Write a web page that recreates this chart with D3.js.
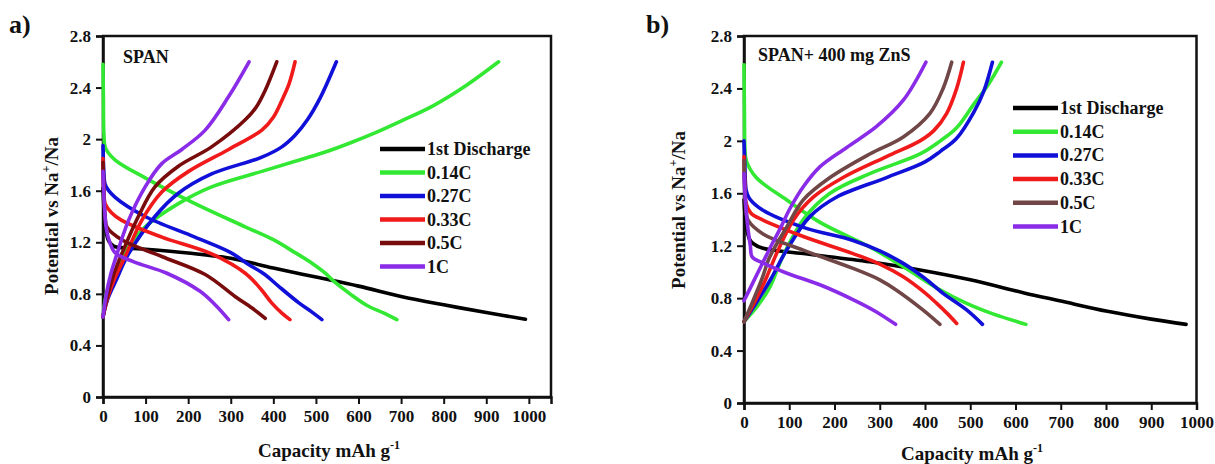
<!DOCTYPE html>
<html>
<head>
<meta charset="utf-8">
<script src="https://cdn.jsdelivr.net/npm/d3@7"></script>
<style>
  body { margin: 0; background: #fff; }
  svg text { font-family: "Liberation Serif", "Times New Roman", Times, "DejaVu Serif", serif !important; font-weight: bold; fill: #111; }
</style>
</head>
<body>
<svg id="chart" width="1215" height="464"></svg>
<script>
// ---------------- DATA ----------------
const seriesNames = ["1st Discharge", "0.14C", "0.27C", "0.33C", "0.5C", "1C"];
const yTicks = [0, 0.4, 0.8, 1.2, 1.6, 2, 2.4, 2.8];
const xTicks = [0, 100, 200, 300, 400, 500, 600, 700, 800, 900, 1000];
const panelLabels = ["a)", "b)"];
const panelTitles = ["SPAN", "SPAN+ 400 mg ZnS"];

// Panel a (SPAN): [capacity mAh/g, potential V]
const a_first = [[0,1.62],[5,1.35],[12,1.22],[25,1.17],[60,1.155],[100,1.146],[200,1.117],[300,1.076],[400,1.0],[500,0.93],[600,0.86],[700,0.78],[800,0.715],[900,0.655],[992,0.603]];
const a_014_dis = [[0,2.58],[1,2.3],[2,2.05],[6,1.93],[28,1.84],[99,1.70],[216,1.50],[334,1.32],[400,1.22],[451,1.12],[490,1.04],[522,0.96],[541,0.90],[580,0.80],[620,0.71],[660,0.65],[690,0.60]];
const a_014_chg = [[0,0.62],[5,0.75],[14,0.87],[28,0.96],[60,1.17],[99,1.32],[177,1.50],[255,1.63],[373,1.75],[463,1.84],[522,1.90],[580,1.97],[640,2.05],[700,2.14],[776,2.26],[850,2.41],[929,2.60]];
const a_027_dis = [[0,1.95],[2,1.75],[6,1.64],[28,1.55],[99,1.40],[216,1.24],[300,1.12],[341,1.03],[380,0.95],[412,0.86],[460,0.73],[490,0.66],[514,0.60]];
const a_027_chg = [[0,0.62],[10,0.75],[30,0.90],[60,1.11],[122,1.40],[177,1.58],[255,1.73],[373,1.86],[420,1.94],[451,2.03],[480,2.15],[510,2.32],[548,2.60]];
const a_033_dis = [[0,1.85],[2,1.62],[5,1.50],[20,1.43],[44,1.37],[138,1.24],[255,1.11],[334,0.96],[370,0.84],[396,0.73],[420,0.65],[439,0.60]];
const a_033_chg = [[0,0.62],[10,0.76],[25,0.90],[52,1.09],[91,1.37],[138,1.59],[201,1.75],[295,1.92],[373,2.07],[400,2.17],[420,2.30],[437,2.43],[451,2.60]];
const a_05_dis = [[0,1.82],[2,1.55],[5,1.40],[9,1.32],[44,1.22],[138,1.09],[240,0.95],[310,0.78],[350,0.69],[381,0.61]];
const a_05_chg = [[0,0.62],[10,0.78],[25,0.95],[44,1.11],[83,1.40],[122,1.63],[177,1.79],[255,1.94],[334,2.15],[360,2.25],[381,2.38],[408,2.60]];
const a_1_dis = [[0,1.75],[3,1.5],[8,1.3],[16,1.2],[28,1.12],[71,1.05],[150,0.96],[228,0.82],[265,0.71],[295,0.60]];
const a_1_chg = [[0,0.62],[8,0.80],[18,0.95],[28,1.06],[60,1.37],[99,1.63],[138,1.81],[185,1.92],[240,2.07],[295,2.33],[343,2.60]];

// Panel b (SPAN + 400 mg ZnS)
const b_first = [[0,1.55],[5,1.35],[12,1.25],[20,1.217],[42,1.18],[131,1.14],[278,1.077],[389,1.015],[500,0.94],[619,0.84],[700,0.778],[803,0.70],[900,0.64],[977,0.60]];
const b_014_dis = [[0,2.58],[1,2.2],[2,1.95],[5,1.85],[27,1.72],[94,1.55],[167,1.38],[278,1.19],[352,1.04],[430,0.87],[492,0.76],[550,0.68],[623,0.60]];
const b_014_chg = [[0,0.62],[30,0.74],[58,0.89],[86,1.12],[131,1.40],[190,1.60],[278,1.75],[389,1.90],[434,2.0],[470,2.10],[508,2.28],[540,2.43],[569,2.60]];
const b_027_dis = [[0,2.0],[2,1.8],[5,1.62],[12,1.56],[42,1.47],[131,1.34],[241,1.24],[300,1.16],[352,1.065],[400,0.95],[440,0.836],[492,0.71],[527,0.60]];
const b_027_chg = [[0,0.62],[30,0.78],[60,0.95],[94,1.166],[145,1.42],[204,1.57],[315,1.72],[400,1.84],[434,1.92],[470,2.02],[508,2.22],[530,2.38],[549,2.60]];
const b_033_dis = [[0,1.88],[2,1.65],[5,1.52],[15,1.45],[42,1.395],[131,1.27],[241,1.14],[300,1.06],[352,0.963],[400,0.84],[426,0.76],[450,0.68],[470,0.607]];
const b_033_chg = [[0,0.62],[25,0.78],[50,0.96],[72,1.14],[109,1.395],[153,1.57],[219,1.72],[315,1.88],[389,2.00],[420,2.08],[448,2.21],[470,2.40],[485,2.60]];
const b_05_dis = [[0,1.85],[2,1.6],[5,1.45],[9,1.395],[42,1.29],[131,1.166],[241,1.027],[300,0.94],[337,0.861],[396,0.709],[433,0.60]];
const b_05_chg = [[0,0.62],[20,0.78],[40,0.95],[57,1.115],[94,1.34],[131,1.55],[190,1.72],[278,1.90],[352,2.03],[411,2.21],[440,2.40],[459,2.60]];
const b_1_dis = [[0,1.75],[3,1.55],[8,1.35],[14,1.2],[18,1.115],[44,1.065],[95,0.99],[169,0.90],[243,0.785],[290,0.70],[335,0.60]];
const b_1_chg = [[0,0.78],[20,0.92],[40,1.06],[60,1.20],[80,1.33],[101,1.48],[131,1.65],[167,1.80],[227,1.95],[293,2.11],[352,2.31],[402,2.60]];

const colorsA = ["#000000", "#33e833", "#1010d8", "#f01a1a", "#780c0c", "#8a2be8"];
const colorsB = ["#000000", "#33e833", "#1010d8", "#f01a1a", "#704646", "#8a2be8"];

// ---------------- DRAW ----------------
const FONT = '"Liberation Serif", "Times New Roman", Times, "DejaVu Serif", serif';
const svg = d3.select("#chart");

function drawPanel(p) {
  const x = d3.scaleLinear().domain(p.xDomain).range([p.left, p.right]);
  const y = d3.scaleLinear().domain([0, 2.8]).range([p.bottom, p.top]);
  const g = svg.append("g").attr("font-family", FONT);

  // frame
  g.append("rect").attr("x", p.left).attr("y", p.top)
    .attr("width", p.right - p.left).attr("height", p.bottom - p.top)
    .attr("fill", "none").attr("stroke", "#111").attr("stroke-width", 2.5);

  // axes
  const yAxis = d3.axisLeft(y).tickValues(yTicks).tickFormat(d3.format("~g")).tickSizeOuter(0).tickSize(7).tickPadding(5);
  const xAxis = d3.axisBottom(x).tickValues(xTicks).tickFormat(d3.format("d")).tickSizeOuter(0).tickSize(7).tickPadding(6);
  const ya = g.append("g").attr("transform", `translate(${p.left},0)`).call(yAxis);
  const xa = g.append("g").attr("transform", `translate(0,${p.bottom})`).call(xAxis);
  [ya, xa].forEach(a => {
    a.attr("font-family", FONT);
    a.select(".domain").attr("stroke", "#111").attr("stroke-width", 2.5);
    a.selectAll(".tick line").attr("stroke", "#111").attr("stroke-width", 2);
    a.selectAll(".tick text").attr("font-size", 17).attr("font-family", FONT).attr("font-weight", "bold").attr("fill", "#111");
  });

  // curves
  const line = d3.line().x(d => x(d[0])).y(d => y(d[1])).curve(d3.curveCatmullRom.alpha(0.5));
  p.series.forEach((s, i) => {
    s.forEach(arr => {
      g.append("path").datum(arr).attr("d", line)
        .attr("fill", "none").attr("stroke", p.colors[i])
        .attr("stroke-width", 3.6).attr("stroke-linecap", "round").attr("stroke-linejoin", "round");
    });
  });

  // legend
  seriesNames.forEach((n, i) => {
    const ly = p.legY + i * p.legDy;
    g.append("line").attr("x1", p.legX).attr("x2", p.legX + 45).attr("y1", ly).attr("y2", ly)
      .attr("stroke", p.colors[i]).attr("stroke-width", 4.5);
    g.append("text").attr("x", p.legX + 47).attr("y", ly + 6).attr("font-size", 18).text(n);
  });

  // sample label
  g.append("text").attr("x", p.titleX).attr("y", p.titleY).attr("font-size", 18).text(p.title);
  // panel letter
  g.append("text").attr("x", p.letterX).attr("y", 33).attr("font-size", 26).text(p.letter);

  // x axis title
  const xt = g.append("text").attr("x", p.xTitleX).attr("y", p.xTitleY).attr("text-anchor", "middle").attr("font-size", 19);
  xt.append("tspan").text("Capacity mAh g");
  xt.append("tspan").attr("font-size", 12).attr("dy", -8).text("-1");

  // y axis title
  const yt = g.append("text").attr("transform", `translate(${p.yTitleX},${p.yTitleY}) rotate(-90)`)
    .attr("text-anchor", "middle").attr("font-size", 19);
  yt.append("tspan").text("Potential vs Na");
  yt.append("tspan").attr("font-size", 12).attr("dy", -8).text("+");
  yt.append("tspan").attr("dy", 8).text("/Na");
}

drawPanel({
  left: 103, right: 551, top: 36, bottom: 397, xDomain: [0, 1052],
  colors: colorsA,
  series: [[a_first], [a_014_dis, a_014_chg], [a_027_dis, a_027_chg], [a_033_dis, a_033_chg], [a_05_dis, a_05_chg], [a_1_dis, a_1_chg]],
  legX: 380, legY: 149, legDy: 23.5,
  title: panelTitles[0], titleX: 123, titleY: 63,
  letter: panelLabels[0], letterX: 9,
  xTitleX: 329, xTitleY: 457, yTitleX: 58, yTitleY: 216
});

drawPanel({
  left: 744, right: 1196.5, top: 36, bottom: 403, xDomain: [0, 1000],
  colors: colorsB,
  series: [[b_first], [b_014_dis, b_014_chg], [b_027_dis, b_027_chg], [b_033_dis, b_033_chg], [b_05_dis, b_05_chg], [b_1_dis, b_1_chg]],
  legX: 1013, legY: 108, legDy: 23.7,
  title: panelTitles[1], titleX: 758, titleY: 61,
  letter: panelLabels[1], letterX: 646,
  xTitleX: 972, xTitleY: 460, yTitleX: 685, yTitleY: 210
});
</script>
</body>
</html>
